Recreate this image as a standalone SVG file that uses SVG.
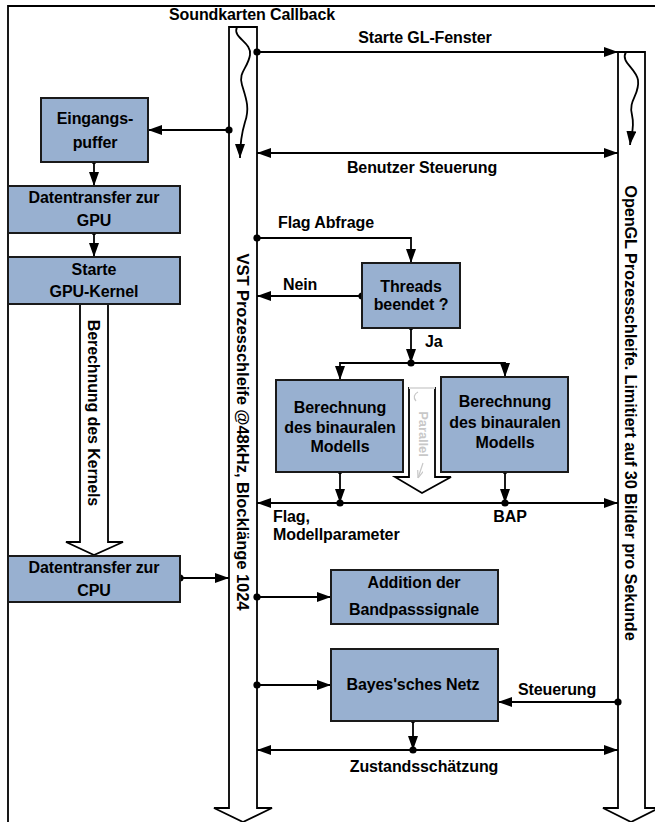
<svg xmlns="http://www.w3.org/2000/svg" width="655" height="822" viewBox="0 0 655 822">
<style>
text{font-family:"Liberation Sans",Arial,sans-serif;font-weight:bold;font-size:16px;letter-spacing:-0.1px;fill:#000}
.c{text-anchor:middle}
.box{fill:#98B0D0;stroke:#1a1a1a;stroke-width:2}
.ln{fill:none;stroke:#000;stroke-width:1.8}
.hol{fill:#fff;stroke:#000;stroke-width:1.8}
.a{marker-end:url(#ah)}
.ab{marker-start:url(#ah);marker-end:url(#ah)}
.d{marker-start:url(#dot)}
.ds{marker-start:url(#sdot)}
</style>
<defs>
<marker id="ah" markerUnits="userSpaceOnUse" markerWidth="14" markerHeight="10" refX="14" refY="5" orient="auto-start-reverse"><path d="M0,0 L14,5 L0,10 z" fill="#000"/></marker>
<marker id="dot" markerUnits="userSpaceOnUse" markerWidth="8" markerHeight="8" refX="4" refY="4"><circle cx="4" cy="4" r="3.6" fill="#000"/></marker>
<marker id="sdot" markerUnits="userSpaceOnUse" markerWidth="6" markerHeight="6" refX="3" refY="3"><circle cx="3" cy="3" r="2.2" fill="#000"/></marker>
<marker id="gah" markerUnits="userSpaceOnUse" markerWidth="8" markerHeight="6" refX="8" refY="3" orient="auto"><path d="M0,0 L8,3 L0,6" fill="none" stroke="#c8c8c8" stroke-width="1.2"/></marker>
</defs>
<rect width="655" height="822" fill="#fff"/>
<g id="frame"><path class="ln" d="M8,822 V6 H655"/></g>
<g id="hollow-arrows">
<polygon class="hol" points="229,27 257,27 257,808 272,808 243,822 214,808 229,808"/>
<polygon class="hol" points="618,52 645,52 645,808 659,808 631,822 603,808 618,808"/>
<polygon class="hol" points="80,300 108,300 108,542 123,542 94,555 66,542 80,542"/>
<polygon class="hol" points="409,388 435,388 435,477 451,477 422,493 395,477 409,477"/>
<line x1="409" y1="388" x2="435" y2="388" stroke="#ddd" stroke-width="2"/>
<path class="ln a" d="M237,27 C232,38 252,42 250,55 C248,68 238,72 242,85 C246,98 250,108 245,122 C242,132 240,142 240,158"/>
<path class="ln a" d="M626,52 C620,62 636,68 638,80 C640,95 628,100 632,115 C635,128 631,135 630,145"/>
<path d="M418,392 C414,394 413,398 416,401 M423,463 L418,478" fill="none" stroke="#c8c8c8" stroke-width="1.2" marker-end="url(#gah)"/>
<text transform="translate(243,432) rotate(90)" class="c" y="5.7" style="font-size:16.6px">VST Prozesschleife @48kHz, Blocklänge 1024</text>
<text transform="translate(631,413) rotate(90)" class="c" y="5.7" style="font-size:16.3px">OpenGL Prozesschleife. Limitiert auf 30 Bilder pro Sekunde</text>
<text transform="translate(94,413) rotate(90)" class="c" y="5.7">Berechnung des Kernels</text>
<text transform="translate(423,434) rotate(90)" class="c" y="4.5" style="font-size:13px;fill:#c8c8c8">Parallel</text>
</g>
<g id="connectors">
<path class="ln d a" d="M257,52 H618"/>
<path class="ln ab" d="M257,153 H618"/>
<path class="ln d a" d="M229,130 H148"/>
<path class="ln ds a" d="M94,162 V186"/>
<path class="ln ds a" d="M94,233 V257"/>
<path class="ln d a" d="M180,578 H229"/>
<path class="ln d a" d="M257,238 H411 V263"/>
<path class="ln d a" d="M362,296 H257"/>
<path class="ln ds a" d="M411,328 V363"/>
<circle cx="411" cy="363" r="3.6"/>
<path class="ln ab" d="M340,380 V363 H505 V377"/>
<path class="ln ds a" d="M340,472 V503"/>
<circle cx="340" cy="503" r="3.6"/>
<path class="ln ds a" d="M505,472 V503"/>
<circle cx="505" cy="503" r="3.6"/>
<path class="ln ab" d="M257,503 H618"/>
<path class="ln d a" d="M257,597 H331"/>
<path class="ln d a" d="M257,685 H331"/>
<path class="ln d a" d="M618,702 H498"/>
<path class="ln ds a" d="M413,721 V750"/>
<circle cx="413" cy="750" r="3.6"/>
<path class="ln ab" d="M257,750 H618"/>
</g>
<g id="labels">
<text class="c" x="252" y="20">Soundkarten Callback</text>
<text class="c" x="425" y="43">Starte GL-Fenster</text>
<text class="c" x="422" y="173">Benutzer Steuerung</text>
<text x="278" y="228">Flag Abfrage</text>
<text x="283" y="290">Nein</text>
<text x="425" y="347">Ja</text>
<text x="273" y="522">Flag,</text>
<text x="273" y="540">Modellparameter</text>
<text class="c" x="510" y="522">BAP</text>
<text x="518" y="695">Steuerung</text>
<text class="c" x="424" y="772">Zustandsschätzung</text>
</g>
<g id="eingangspuffer"><rect class="box" x="41" y="98" width="107" height="64"/><text class="c" x="95" y="124">Eingangs-</text><text class="c" x="95" y="148">puffer</text></g>
<g id="datentransfer-gpu"><rect class="box" x="8" y="186" width="172" height="47"/><text class="c" x="94" y="203">Datentransfer zur</text><text class="c" x="94" y="226">GPU</text></g>
<g id="starte-kernel"><rect class="box" x="8" y="257" width="172" height="47"/><text class="c" x="94" y="275">Starte</text><text class="c" x="94" y="297">GPU-Kernel</text></g>
<g id="datentransfer-cpu"><rect class="box" x="8" y="556" width="172" height="46"/><text class="c" x="94" y="573">Datentransfer zur</text><text class="c" x="94" y="596">CPU</text></g>
<g id="threads"><rect class="box" x="362" y="263" width="98" height="65"/><text class="c" x="411" y="292">Threads</text><text class="c" x="411" y="310">beendet ?</text></g>
<g id="berechnung1"><rect class="box" x="276" y="380" width="127" height="92"/><text class="c" x="340" y="413">Berechnung</text><text class="c" x="340" y="433">des binauralen</text><text class="c" x="340" y="452">Modells</text></g>
<g id="berechnung2"><rect class="box" x="441" y="377" width="127" height="95"/><text class="c" x="505" y="407">Berechnung</text><text class="c" x="505" y="428">des binauralen</text><text class="c" x="505" y="448">Modells</text></g>
<g id="addition"><rect class="box" x="331" y="570" width="167" height="54"/><text class="c" x="414" y="588">Addition der</text><text class="c" x="414" y="615">Bandpasssignale</text></g>
<g id="bayes"><rect class="box" x="331" y="649" width="167" height="72"/><text class="c" x="413" y="690">Bayes'sches Netz</text></g>
</svg>
